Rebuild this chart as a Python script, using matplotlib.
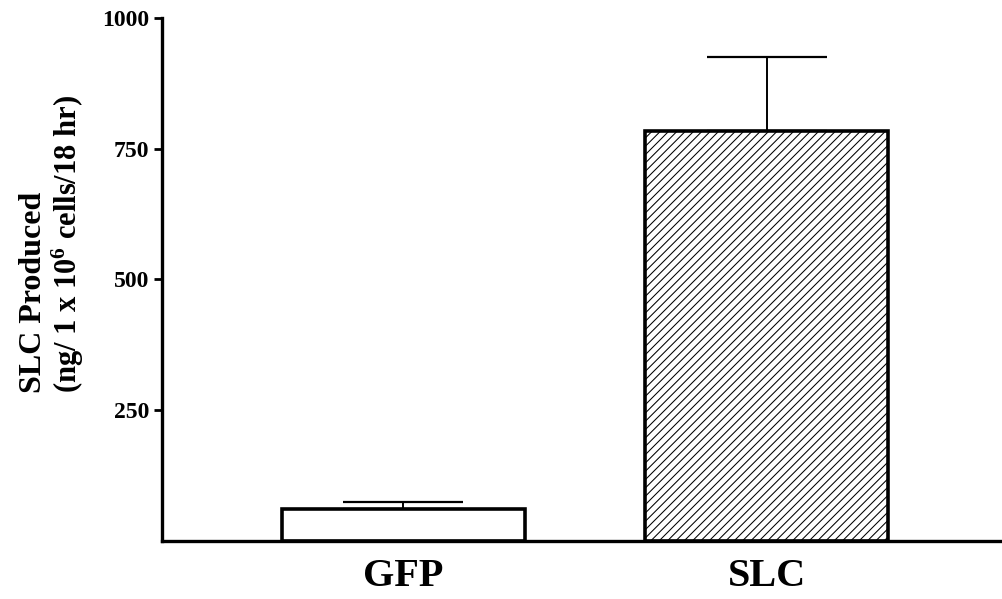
import matplotlib
matplotlib.use("Agg")
import matplotlib.pyplot as plt

# SLC secreted by transduced cells
groups = ["GFP", "SLC"]
means = [61, 784]
sem = [13, 141]
yticks = [250, 500, 750, 1000]

plt.rcParams['font.family'] = ['Liberation Serif', 'DejaVu Serif']
plt.rcParams['font.weight'] = 'bold'
plt.rcParams['hatch.linewidth'] = 0.75
plt.rcParams['mathtext.fontset'] = 'custom'
plt.rcParams['mathtext.rm'] = 'Liberation Serif:bold'
plt.rcParams['mathtext.it'] = 'Liberation Serif:bold'
plt.rcParams['mathtext.bf'] = 'Liberation Serif:bold'

fig = plt.figure(figsize=(10.03, 5.99), dpi=100)
ax = fig.add_axes([0.1615, 0.0968, 0.8355, 0.8732])

x = range(len(groups))
bars = ax.bar(x, means, width=0.67, color='white', edgecolor='black',
              linewidth=2.6, zorder=2)
bars[1].set_hatch('////')

# upper error bars only
ax.errorbar(x, means, yerr=[[0, 0], sem], fmt='none', ecolor='black',
            elinewidth=1.4, capsize=43, capthick=1.6, zorder=1)

ax.set_xlim(-0.665, 1.643)
ax.set_ylim(0, 1000)
ax.set_yticks(yticks)
ax.set_yticklabels([str(t) for t in yticks], fontsize=17, fontweight='bold')
ax.set_xticks(list(x))
ax.set_xticklabels(groups, fontsize=29, fontweight='bold')
ax.tick_params(axis='x', length=0, pad=12)
ax.tick_params(axis='y', direction='out', length=6, width=2, pad=3)

for side in ['top', 'right']:
    ax.spines[side].set_visible(False)
for side in ['left', 'bottom']:
    ax.spines[side].set_linewidth(2.4)

fig.text(0.033, 0.344, "SLC Produced", rotation=90, ha='center', va='bottom',
         fontsize=23, fontweight='bold')
fig.text(0.068, 0.344, r"(ng/ 1 x 10$^6$ cells/18 hr)", rotation=90,
         ha='center', va='bottom', fontsize=22, fontweight='bold')

fig.savefig("out.png", dpi=100)
